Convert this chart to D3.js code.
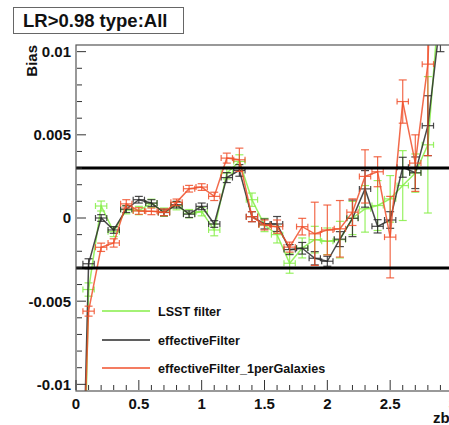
<!DOCTYPE html>
<html><head><meta charset="utf-8">
<script src="https://cdn.jsdelivr.net/npm/d3@7"></script>
<style>body{margin:0;background:#fff}text{font-family:"Liberation Sans",Arial,sans-serif;font-weight:bold}</style>
</head><body>
<svg id="c" width="449" height="425"></svg>
<script>
// bin centres (zb)
const zBins = [0.0,0.1,0.2,0.3,0.4,0.5,0.6,0.7,0.8,0.9,1.0,1.1,1.2,1.3,1.4,1.5,1.6,1.7,1.8,1.9,2.0,2.1,2.2,2.3,2.4,2.5,2.6,2.7,2.8,2.9];
// bias values (x 0.001)
const lsstVals = [-40,-4.3,0.72,-0.82,0.5,0.45,0.88,0.35,0.74,0.26,0.38,-0.72,2.7,3.4,1.1,-0.42,-1.0,-2.72,-1.8,-1.3,-1.4,-1.3,0.0,0.55,0.75,1.15,1.95,2.7,4.4,14];
const lsstErr  = [1,0.4,0.3,0.3,0.25,0.25,0.25,0.25,0.25,0.25,0.25,0.35,0.35,0.4,0.4,0.4,0.5,0.6,0.6,0.8,0.8,1.1,1.0,1.4,1.5,1.4,2.1,1.15,4.1,3];
const effVals  = [-33,-2.75,0.0,-0.72,0.53,1.1,0.9,0.33,0.8,0.23,0.7,-0.36,2.43,2.86,0.08,-0.36,-0.36,-1.9,-1.82,-2.42,-2.6,-1.27,-0.02,1.75,-0.5,-0.12,3.05,2.72,5.55,12];
const effErr   = [1,0.3,0.2,0.2,0.2,0.2,0.2,0.2,0.2,0.2,0.2,0.2,0.3,0.35,0.3,0.3,0.45,0.3,0.35,0.4,0.3,0.45,1.1,1.1,0.4,0.5,0.6,0.95,1.8,2];
const oneVals  = [-28,-5.6,-1.76,-1.5,0.85,0.42,0.4,0.34,0.94,1.76,1.86,1.3,3.6,3.5,0.08,-0.42,-0.52,-1.75,-0.52,-0.95,-0.72,-0.65,0.35,2.5,2.78,-1.15,7.0,3.3,9.25,30];
const oneErr   = [1,0.3,0.25,0.25,0.25,0.2,0.2,0.2,0.2,0.2,0.2,0.25,0.3,0.7,0.3,0.3,0.4,0.3,0.5,1.9,1.5,1.7,0.8,1.6,0.9,2.45,1.3,1.7,5.5,5];
const seriesNames = ["LSST filter","effectiveFilter","effectiveFilter_1perGalaxies"];
const seriesColors = ["#86ee48","#2a2a2a","#f0502c"];
const yTicks = [-0.01,-0.005,0,0.005,0.01];
const yTickLabels = ["-0.01","-0.005","0","0.005","0.01"];
const xTicks = [0,0.5,1,1.5,2,2.5,3];
const xTickLabels = ["0","0.5","1","1.5","2","2.5","3"];
const refLines = [0.003,-0.003];

const svg = d3.select("#c");
const x = d3.scaleLinear().domain([0,3]).range([76,453]);
const y = d3.scaleLinear().domain([-0.0104,0.0104]).range([391,45]);

svg.append("defs").append("clipPath").attr("id","clip")
  .append("rect").attr("x",76).attr("y",45).attr("width",377).attr("height",346);

const series = [
  {vals:lsstVals, err:lsstErr},
  {vals:effVals, err:effErr},
  {vals:oneVals, err:oneErr}
];
const g = svg.append("g").attr("clip-path","url(#clip)");
series.forEach((s,i)=>{
  const col = seriesColors[i];
  const pts = zBins.map((z,j)=>({z, v:s.vals[j]*1e-3, e:s.err[j]*1e-3}));
  const sg = g.append("g").attr("stroke",col).attr("fill","none").attr("stroke-opacity",0.85);
  sg.append("path").attr("d", d3.line().x(d=>x(d.z)).y(d=>y(d.v))(pts)).attr("stroke-width",1.5);
  pts.forEach(d=>{
    const cx = x(d.z), cy = y(d.v);
    const x0 = x(d.z-0.045), x1 = x(d.z+0.045);
    const y0 = y(d.v+d.e), y1 = y(d.v-d.e);
    sg.append("line").attr("x1",x0).attr("x2",x1).attr("y1",cy).attr("y2",cy).attr("stroke-width",1.2);
    sg.append("line").attr("x1",x0).attr("x2",x0).attr("y1",cy-3).attr("y2",cy+3).attr("stroke-width",1.2);
    sg.append("line").attr("x1",x1).attr("x2",x1).attr("y1",cy-3).attr("y2",cy+3).attr("stroke-width",1.2);
    sg.append("line").attr("x1",cx).attr("x2",cx).attr("y1",y0).attr("y2",y1).attr("stroke-width",1.2);
    sg.append("line").attr("x1",cx-4).attr("x2",cx+4).attr("y1",y0).attr("y2",y0).attr("stroke-width",1.2);
    sg.append("line").attr("x1",cx-4).attr("x2",cx+4).attr("y1",y1).attr("y2",y1).attr("stroke-width",1.2);
  });
});

// reference lines
refLines.forEach(v=>{
  svg.append("line").attr("x1",x(0)).attr("x2",449).attr("y1",y(v)).attr("y2",y(v))
    .attr("stroke","#000").attr("stroke-width",3);
});

// frame
svg.append("rect").attr("x",76).attr("y",45).attr("width",377).attr("height",346)
  .attr("fill","none").attr("stroke","#555").attr("stroke-width",1.2);

// y ticks
const yMinor = d3.range(-10,11).map(k=>k*0.001);
yMinor.forEach(v=>{
  const major = Math.abs(Math.round(v*1000))%5===0;
  svg.append("line").attr("x1",77).attr("x2",77+(major?9:5)).attr("y1",y(v)).attr("y2",y(v))
    .attr("stroke","#333").attr("stroke-width",1);
});
yTicks.forEach((v,i)=>{
  svg.append("text").attr("x",71).attr("y",y(v)).attr("dy","0.36em").attr("text-anchor","end")
    .attr("font-size",15).attr("fill","#111").text(yTickLabels[i]);
});
// x ticks
d3.range(0,30).map(k=>k*0.1).forEach(v=>{
  const major = Math.round(v*10)%5===0;
  svg.append("line").attr("x1",x(v)).attr("x2",x(v)).attr("y1",390).attr("y2",390-(major?10:5))
    .attr("stroke","#333").attr("stroke-width",1);
});
xTicks.forEach((v,i)=>{
  svg.append("text").attr("x",x(v)).attr("y",409).attr("text-anchor","middle")
    .attr("font-size",15).attr("fill","#111").text(xTickLabels[i]);
});
// axis titles
svg.append("text").attr("transform","translate(37,45) rotate(-90)").attr("text-anchor","end")
  .attr("font-size",15).attr("fill","#111").text("Bias");
svg.append("text").attr("x",433).attr("y",423).attr("font-size",15).attr("fill","#111").text("zb");

// title box
svg.append("rect").attr("x",13.5).attr("y",7.5).attr("width",170).attr("height",26)
  .attr("fill","#fff").attr("stroke","#666").attr("stroke-width",1);
svg.append("text").attr("x",23).attr("y",27).attr("font-size",18.5).attr("fill","#111").text("LR>0.98 type:All");

// legend
const legY = [311,340,368];
seriesNames.forEach((n,i)=>{
  svg.append("line").attr("x1",102).attr("x2",150).attr("y1",legY[i]).attr("y2",legY[i])
    .attr("stroke",seriesColors[i]).attr("stroke-width",1.5);
  svg.append("text").attr("x",158).attr("y",legY[i]).attr("dy","0.36em")
    .attr("font-size",12.6).attr("fill","#111").text(n);
});
</script>
</body></html>
